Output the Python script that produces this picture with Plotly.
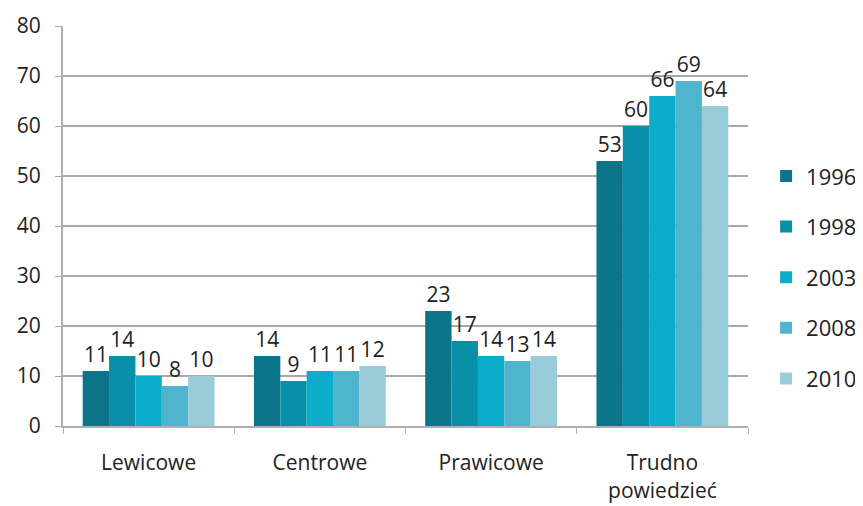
import plotly.graph_objects as go

categories = ["Lewicowe", "Centrowe", "Prawicowe", "Trudno<br>powiedzieć"]
years = ["1996", "1998", "2003", "2008", "2010"]
values_1996 = [11, 14, 23, 53]
values_1998 = [14, 9, 17, 60]
values_2003 = [10, 11, 14, 66]
values_2008 = [8, 11, 13, 69]
values_2010 = [10, 12, 14, 64]
series = [values_1996, values_1998, values_2003, values_2008, values_2010]
colors = ["#0b7489", "#0a8fa9", "#0cadcb", "#4fb5cf", "#9acbd8"]

fig = go.Figure()
for year, vals, col in zip(years, series, colors):
    fig.add_trace(go.Bar(
        x=categories, y=vals, name=year, legendgroup=year,
        marker=dict(color=col, line=dict(width=0)),
        text=[str(v) for v in vals], textposition="outside",
        textfont=dict(size=21, color="#222222"),
        constraintext="none", cliponaxis=False,
    ))

# plot area: 55..740 px horizontally (paper spans 55..863 with r=0)
fig.update_layout(
    width=863, height=506,
    barmode="group", bargap=0.23, bargroupgap=0,
    plot_bgcolor="white", paper_bgcolor="white",
    font=dict(family="Open Sans, Liberation Sans, sans-serif", size=21, color="#222222"),
    margin=dict(l=55, r=0, t=18, b=88),
    legend=dict(
        x=0.989, y=0.372, xanchor="right", yanchor="middle",
        font=dict(size=22), tracegroupgap=19,
        itemwidth=30,
    ),
    xaxis=dict(
        domain=[0, 685 / 808],
        automargin=False,
        showline=True, linecolor="#b0b0b0", linewidth=2,
        ticks="outside", tickson="boundaries", ticklen=6, tickcolor="#b0b0b0",
        tickfont=dict(size=21), ticklabelstandoff=17,
    ),
    yaxis=dict(
        range=[0, 80], dtick=10,
        automargin=False,
        showline=True, linecolor="#b0b0b0", linewidth=2,
        showgrid=True, gridcolor="#a8a8a8", gridwidth=1.5,
        ticks="outside", ticklen=6, tickcolor="#a8a8a8",
        tickfont=dict(size=21), zeroline=False, ticklabelstandoff=10,
    ),
)

fig.write_html("out.html")
